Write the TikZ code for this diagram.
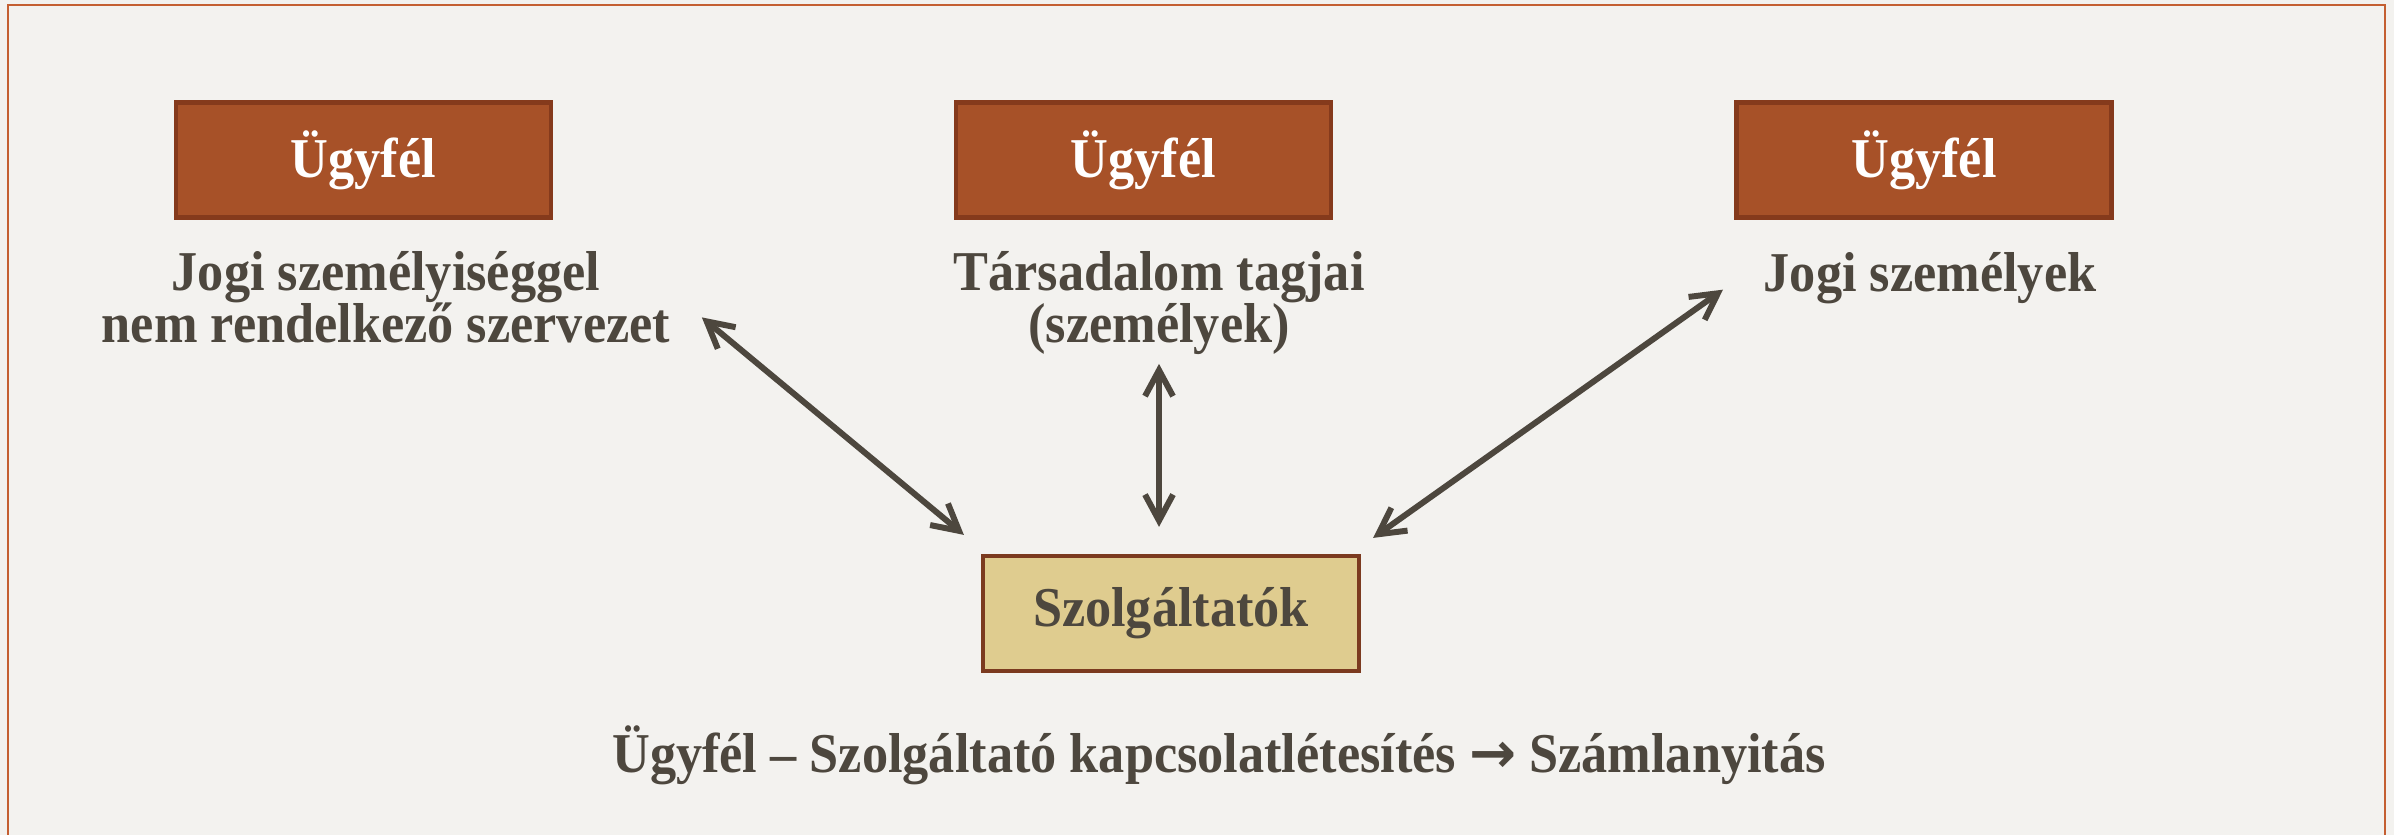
\documentclass[tikz,border=0pt]{standalone}
\usepackage{fontspec}
\setmainfont{Liberation Serif}[FakeStretch=0.93]
\newfontfamily\arrowfont{DejaVu Sans}
\usetikzlibrary{arrows.meta}

\definecolor{paper}{HTML}{F3F2EF}
\definecolor{frame}{HTML}{C45F32}
\definecolor{rust}{HTML}{A75128}
\definecolor{rustline}{HTML}{853A1C}
\definecolor{tan}{HTML}{DFCC8F}
\definecolor{tanline}{HTML}{7B3A1F}
\definecolor{ink}{HTML}{4D473E}

\begin{document}
\begin{tikzpicture}

\tikzset{client/.style = {rectangle, draw=rustline, fill=rust, line width=1.2pt, minimum width=3.75cm, minimum height=1.15cm, text=white, font=\fontsize{16}{15}\selectfont\bfseries}}
\tikzset{provider/.style = {rectangle, draw=tanline, fill=tan, line width=1.2pt, minimum width=3.76cm, minimum height=1.15cm, text=ink, font=\fontsize{16}{15}\selectfont\bfseries}}
\tikzset{lbl/.style = {align=center, text=ink, inner sep=2pt, font=\fontsize{16}{15}\selectfont\bfseries}}
\tikzset{link/.style = {{Straight Barb[length=2.6mm,width=2.8mm]}-{Straight Barb[length=2.6mm,width=2.8mm]}, line width=1.7pt, draw=ink}}

%background
\useasboundingbox (0,0) rectangle (23.94,-8.35);
\fill[paper] (0,0) rectangle (23.94,-8.35);
\draw[frame, line width=0.8pt] (0.08,-9) -- (0.08,-0.05) -- (23.85,-0.05) -- (23.85,-9);

%boxes
\node[client] (u1) at (3.635,-1.60) {Ügyfél};
\node[client] (u2) at (11.435,-1.60) {Ügyfél};
\node[client] (u3) at (19.24,-1.60) {Ügyfél};
\node[provider] (szolg) at (11.71,-6.135) {Szolgáltatók};

%labels
\node[lbl, anchor=base] (jogi1) at (3.86,-3.43) {Jogi személyiséggel\\nem rendelkező szervezet};
\node[lbl, anchor=base] (tars) at (11.59,-3.43) {Társadalom tagjai\\(személyek)};
\node[lbl, anchor=base] (jogi2) at (19.30,-2.92) {Jogi személyek};
\node[lbl, anchor=base] (kapcs) at (12.19,-7.72) {Ügyfél – Szolgáltató kapcsolatlétesítés {\arrowfont →} Számlanyitás};

%arrows
\draw[link] ([shift={(0.24,-0.20)}]jogi1.east) -- ([shift={(-0.17,0.19)}]szolg.north west);
\draw[link] ([yshift=-0.01cm]tars.south) -- ([yshift=0.27cm]tars.south |- szolg.north);
\draw[link] ([shift={(-0.33,-0.11)}]jogi2.west) -- ([shift={(0.12,0.16)}]szolg.north east);

\end{tikzpicture}
\end{document}
